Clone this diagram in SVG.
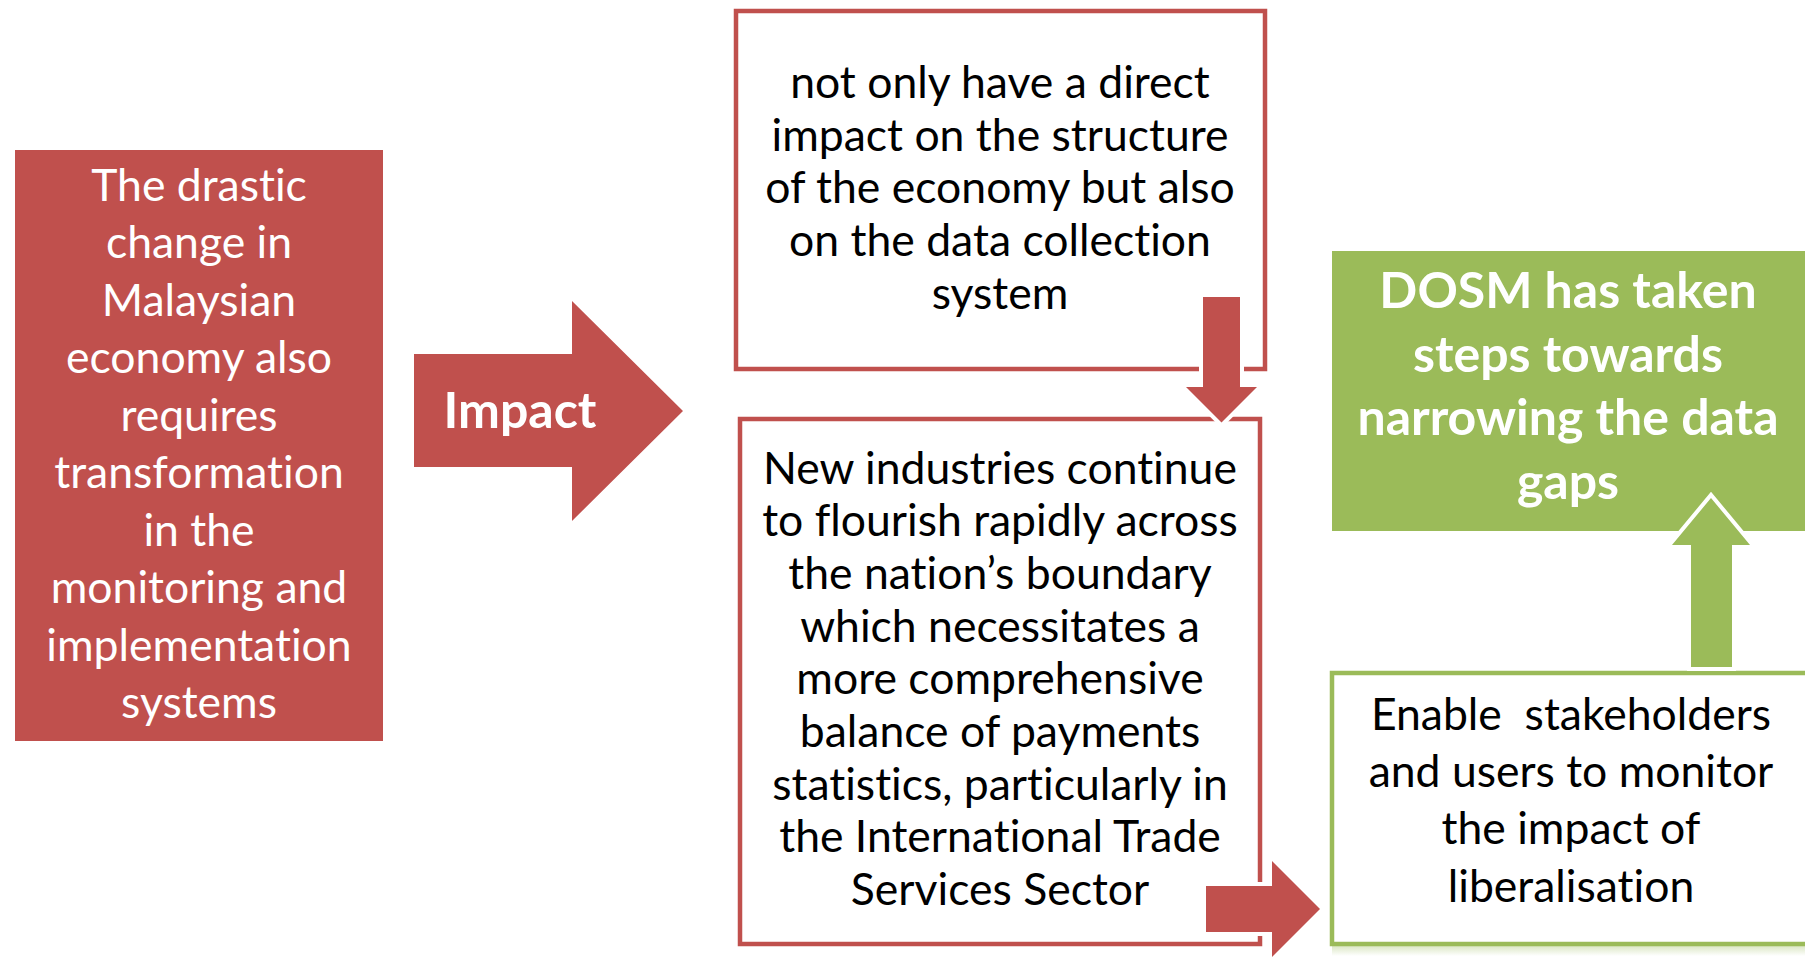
<svg xmlns="http://www.w3.org/2000/svg" width="1805" height="958" viewBox="0 0 1805 958">
  <style>
    text{font-family:Lato,"Open Sans","Liberation Sans",sans-serif;text-anchor:middle;font-variant-ligatures:none;font-feature-settings:"liga" 0,"clig" 0}
    .dark{font-size:44.5px;fill:#000}
    .light{font-size:44.5px;fill:#fff}
    .head{font-size:50px;font-weight:bold;fill:#fff}
    .red-fill{fill:#C0504D}
    .green-fill{fill:#9BBB59}
    .red-frame{fill:#fff;stroke:#C0504D;stroke-width:4.5}
    .green-frame{fill:#fff;stroke:#9BBB59;stroke-width:4.5}
    .red-arrow{fill:#C0504D;stroke:#fff;stroke-width:8;stroke-linejoin:miter;paint-order:stroke}
    .green-arrow{fill:#9BBB59;stroke:#fff;stroke-width:8;stroke-linejoin:miter;paint-order:stroke}
  </style>
  <defs>
    <linearGradient id="shadow" x1="0" y1="0" x2="0" y2="1">
      <stop offset="0" stop-color="#9BBB59" stop-opacity="0.35"/>
      <stop offset="1" stop-color="#9BBB59" stop-opacity="0"/>
    </linearGradient>
  </defs>
  <rect width="1805" height="958" fill="#fff"/>

  <!-- left filled panel -->
  <g id="node-drastic-change">
    <rect class="red-fill" x="15" y="150" width="368" height="591"/>
    <text class="light" x="199" y="201">The drastic</text>
    <text class="light" x="199" y="258">change in</text>
    <text class="light" x="199" y="316">Malaysian</text>
    <text class="light" x="199" y="373">economy also</text>
    <text class="light" x="199" y="431">requires</text>
    <text class="light" x="199" y="488">transformation</text>
    <text class="light" x="199" y="546">in the</text>
    <text class="light" x="199" y="603">monitoring and</text>
    <text class="light" x="199" y="661">implementation</text>
    <text class="light" x="199" y="718">systems</text>
  </g>

  <!-- block arrow carrying the label -->
  <g id="node-impact">
    <polygon class="red-fill" points="414,354 572,354 572,301 683,411 572,521 572,467 414,467"/>
    <text class="head" x="520" y="428">Impact</text>
  </g>

  <!-- upper outlined box -->
  <g id="node-direct-impact">
    <rect class="red-frame" x="736" y="11" width="529" height="358"/>
    <text class="dark" x="1000" y="98">not only have a direct</text>
    <text class="dark" x="1000" y="151">impact on the structure</text>
    <text class="dark" x="1000" y="203">of the economy but also</text>
    <text class="dark" x="1000" y="256">on the data collection</text>
    <text class="dark" x="1000" y="309">system</text>
  </g>

  <!-- lower outlined box -->
  <g id="node-new-industries">
    <rect class="red-frame" x="740" y="419" width="520" height="525"/>
    <text class="dark" x="1000" y="484">New industries continue</text>
    <text class="dark" x="1000" y="536">to flourish rapidly across</text>
    <text class="dark" x="1000" y="589">the nation’s boundary</text>
    <text class="dark" x="1000" y="642">which necessitates a</text>
    <text class="dark" x="1000" y="694">more comprehensive</text>
    <text class="dark" x="1000" y="747">balance of payments</text>
    <text class="dark" x="1000" y="800">statistics, particularly in</text>
    <text class="dark" x="1000" y="852">the International Trade</text>
    <text class="dark" x="1000" y="905">Services Sector</text>
  </g>

  <!-- green filled result box -->
  <g id="node-dosm">
    <rect class="green-fill" x="1332" y="251" width="480" height="280"/>
    <text class="head" x="1568" y="308">DOSM has taken</text>
    <text class="head" x="1568" y="372">steps towards</text>
    <text class="head" x="1568" y="435">narrowing the data</text>
    <text class="head" x="1568" y="499">gaps</text>
  </g>

  <!-- green outlined box -->
  <g id="node-enable">
    <rect x="1332" y="946" width="480" height="10" fill="url(#shadow)"/>
    <rect class="green-frame" x="1332" y="673" width="480" height="271"/>
    <text class="dark" x="1571" y="730">Enable &#160;stakeholders</text>
    <text class="dark" x="1571" y="787">and users to monitor</text>
    <text class="dark" x="1571" y="844">the impact of</text>
    <text class="dark" x="1571" y="902">liberalisation</text>
  </g>

  <!-- block arrows linking the boxes -->
  <g id="connectors">
    <polygon class="red-arrow" points="1203,297 1240,297 1240,387 1257,387 1221.5,422.5 1186,387 1203,387"/>
    <polygon class="red-arrow" points="1206,886 1272,886 1272,861 1320,909 1272,957 1272,932 1206,932"/>
    <polygon class="green-arrow" points="1691,667 1691,545 1672,545 1711,498 1750,545 1732,545 1732,667"/>
  </g>
</svg>
